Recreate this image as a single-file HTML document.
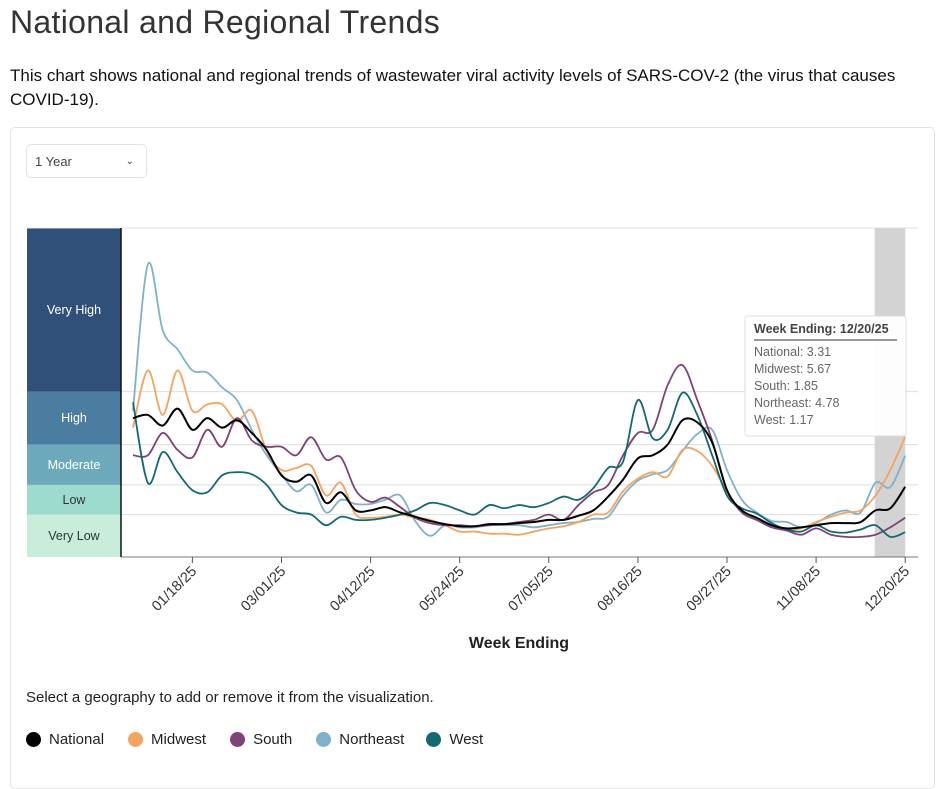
<!DOCTYPE html>
<html><head><meta charset="utf-8">
<style>
body{margin:0;width:936px;height:764px;overflow:hidden;background:#fff;font-family:"Liberation Sans",sans-serif;color:#222;position:relative}
.abs{position:absolute}
</style></head><body>
<div class="abs" style="left:10px;top:4px;font-size:32px;color:#333;letter-spacing:0.3px">National and Regional Trends</div>
<div class="abs" style="left:10px;top:64px;width:910px;font-size:17px;line-height:24px;color:#111">This chart shows national and regional trends of wastewater viral activity levels of SARS-COV-2 (the virus that causes COVID-19).</div>
<div class="abs" style="left:10px;top:127px;width:923px;height:660px;border:1px solid #e2e2e2;border-radius:5px"></div>
<div class="abs" style="left:26px;top:144px;width:121px;height:34px;border:1px solid #e3e3e3;border-radius:5px;font-size:13px;line-height:34px;color:#444;box-sizing:border-box;padding-left:8px">1 Year<span style="position:absolute;right:12px;top:0;font-size:10px">&#8964;</span></div>
<svg class="abs" style="left:0;top:0" width="936" height="764" id="chart"></svg>
<div class="abs" style="left:26px;top:689px;font-size:15px;color:#222">Select a geography to add or remove it from the visualization.</div>
<div class="abs" id="legend" style="left:26px;top:731px;font-size:15px;color:#222;display:flex;gap:0"></div>
<script>
const weeks = 53;
const tickLabels = ["01/18/25","03/01/25","04/12/25","05/24/25","07/05/25","08/16/25","09/27/25","11/08/25","12/20/25"];
const tickWeeks = [4,10,16,22,28,34,40,46,52];
const bandNames = ["Very Low","Low","Moderate","High","Very High"];
const bandEdges = [0,2,3.4,5.3,7.8,15.5];
const seriesNames = ["National","Midwest","South","Northeast","West"];
const seriesColors = ["#000000","#f4a460","#7e4378","#7fb2c9","#136a6e"];
const national = [6.55,6.7,6.2,7.0,6.0,6.55,6.1,6.45,5.85,5.05,3.85,3.55,3.85,2.55,3.05,2.2,2.2,2.35,2.1,1.9,1.7,1.55,1.45,1.45,1.55,1.55,1.6,1.65,1.75,1.75,1.95,2.2,2.85,3.65,4.65,4.8,5.3,6.45,6.35,5.4,3.15,2.2,1.85,1.5,1.35,1.4,1.5,1.6,1.6,1.65,2.2,2.3,3.31];
const midwest = [6.1,8.8,6.7,8.8,6.9,7.2,7.2,6.4,6.9,5.0,4.1,4.2,4.3,2.9,3.5,2.0,1.85,1.9,2.0,1.85,1.75,1.5,1.2,1.2,1.1,1.1,1.05,1.2,1.35,1.45,1.65,2.0,2.1,3.1,3.7,4.0,3.8,5.05,5.0,4.3,3.1,2.1,1.75,1.5,1.3,1.35,1.65,1.9,2.1,2.2,2.9,4.1,5.67];
const south = [4.8,4.8,5.85,5.05,4.7,6.0,5.2,6.55,5.5,5.2,5.2,4.8,5.65,4.6,4.7,3.15,2.6,2.8,2.35,1.85,1.6,1.5,1.5,1.45,1.5,1.55,1.65,1.75,2.0,1.75,2.45,3.05,3.4,4.8,5.85,6.0,8.1,9.05,7.4,5.5,3.15,2.1,1.75,1.4,1.25,1.05,1.35,1.05,0.95,0.95,1.05,1.4,1.85];
const northeast = [6.9,13.8,10.7,9.8,8.8,8.7,8.0,7.4,6.0,4.8,3.9,3.1,3.4,2.1,2.7,2.5,2.5,2.7,2.9,1.7,1.0,1.5,1.4,1.4,1.5,1.5,1.5,1.4,1.5,1.6,1.65,1.8,1.9,2.9,3.6,3.9,4.1,5.0,5.8,6.0,4.1,2.7,2.1,1.7,1.65,1.4,1.6,2.0,2.2,2.1,3.5,3.3,4.78];
const west = [7.3,3.5,4.95,4.0,3.15,3.05,3.85,4.0,3.9,3.4,2.45,2.1,2.0,1.5,1.9,1.75,1.75,1.85,2.0,2.2,2.55,2.45,2.2,2.0,2.45,2.3,2.45,2.35,2.55,2.85,2.7,3.25,4.2,4.5,7.4,5.6,6.0,7.75,6.7,4.8,2.9,2.3,2.05,1.6,1.3,1.2,1.5,1.2,1.15,1.3,1.5,0.95,1.17];
const allSeries = [national,midwest,south,northeast,west];

const NS="http://www.w3.org/2000/svg";
const svg=document.getElementById('chart');
const X0=133, DX=14.85, Y0=557, KY=21.2, PL=121, PR=918, PT=228;
const xs=i=>X0+i*DX, ys=v=>Y0-v*KY;
function mk(tag,attrs,parent){const e=document.createElementNS(NS,tag);for(const k in attrs)e.setAttribute(k,attrs[k]);(parent||svg).appendChild(e);return e;}
const bandColors=["#c8eedb","#9edbcf","#6caabb","#4a7d9f","#30507a"];
const bandText=["#333","#333","#fff","#fff","#fff"];
for(let b=0;b<bandNames.length;b++){
  const y1=Math.max(ys(bandEdges[b+1]),PT), y2=ys(bandEdges[b]);
  const r=mk('rect',{x:27,y:y1,width:PL-27,height:y2-y1,fill:bandColors[b]});
  
  
  const t=mk('text',{x:74,y:(y1+y2)/2+4,'text-anchor':'middle','font-size':12.5,fill:bandText[b],'font-family':'Liberation Sans, sans-serif'});
  t.textContent=bandNames[b];
  
  
  if(b<4){const g=mk('line',{x1:PL,x2:PR,y1:ys(bandEdges[b+1]),y2:ys(bandEdges[b+1]),stroke:'#ddd','stroke-width':1});
    
    }
}
const topLine=mk('line',{x1:PL,x2:PR,y1:PT,y2:PT,stroke:'#e2e2e2'});


const hl=mk('rect',{x:xs(49.95),y:PT,width:xs(52)-xs(49.95),height:Y0-PT,fill:'#d3d3d3'});


const ya=mk('line',{x1:PL,x2:PL,y1:PT,y2:Y0,stroke:'#111','stroke-width':1.5});


const xa=mk('line',{x1:PL,x2:PR,y1:Y0,y2:Y0,stroke:'#777','stroke-width':1});


tickWeeks.forEach((w,i)=>{
  const x=xs(w);
  const tk=mk('line',{x1:x,x2:x,y1:Y0,y2:Y0+6,stroke:'#555'});
  
  
  const t=mk('text',{x:x+5,y:Y0+15,'text-anchor':'end','font-size':14.5,fill:'#333',transform:`rotate(-45 ${x+5} ${Y0+15})`,'font-family':'Liberation Sans, sans-serif'});
  t.textContent=tickLabels[i];
  
  
});
const xt=mk('text',{x:519,y:648,'text-anchor':'middle','font-size':16,'font-weight':'bold',fill:'#222','font-family':'Liberation Sans, sans-serif'});
xt.textContent='Week Ending';


function path(arr){
  const p=arr.map((v,i)=>[xs(i),ys(v)]);
  let d=`M${p[0][0]},${p[0][1]}`;
  for(let i=0;i<p.length-1;i++){
    const p0=p[Math.max(0,i-1)],p1=p[i],p2=p[i+1],p3=p[Math.min(p.length-1,i+2)];
    const c1=[p1[0]+(p2[0]-p0[0])/6,p1[1]+(p2[1]-p0[1])/6];
    const c2=[p2[0]-(p3[0]-p1[0])/6,p2[1]-(p3[1]-p1[1])/6];
    d+=`C${c1[0]},${c1[1]} ${c2[0]},${c2[1]} ${p2[0]},${p2[1]}`;
  }
  return d;
}
const order=[3,1,2,4,0];
order.forEach(s=>{
  const l=mk('path',{d:path(allSeries[s]),fill:'none',stroke:seriesColors[s],'stroke-width':s===0?2:1.8});
  
  
});
const tg=mk('g',{});


mk('rect',{x:745,y:316,width:161,height:120,rx:3,fill:'rgba(255,255,255,0.95)',stroke:'#ddd'},tg);
const tt=mk('text',{x:754,y:333,'font-size':12.5,'font-weight':'bold',fill:'#444','font-family':'Liberation Sans, sans-serif'},tg);
tt.textContent='Week Ending: 12/20/25';
mk('line',{x1:754,x2:897,y1:340,y2:340,stroke:'#333'},tg);
seriesNames.forEach((n,i)=>{
  const t=mk('text',{x:754,y:356+i*17,'font-size':12.5,fill:'#666','font-family':'Liberation Sans, sans-serif'},tg);
  t.textContent=n+': '+allSeries[i][weeks-1].toFixed(2);
});
const lg=document.getElementById('legend');
seriesNames.forEach((n,i)=>{
  const e=document.createElement('div');
  
  
  e.style.cssText='display:flex;align-items:center;margin-right:'+(i===3?22:24)+'px';
  e.innerHTML=`<span style="display:inline-block;width:15px;height:15px;border-radius:50%;background:${seriesColors[i]};margin-right:8px"></span>${n}`;
  lg.appendChild(e);
});
</script>
</body></html>
